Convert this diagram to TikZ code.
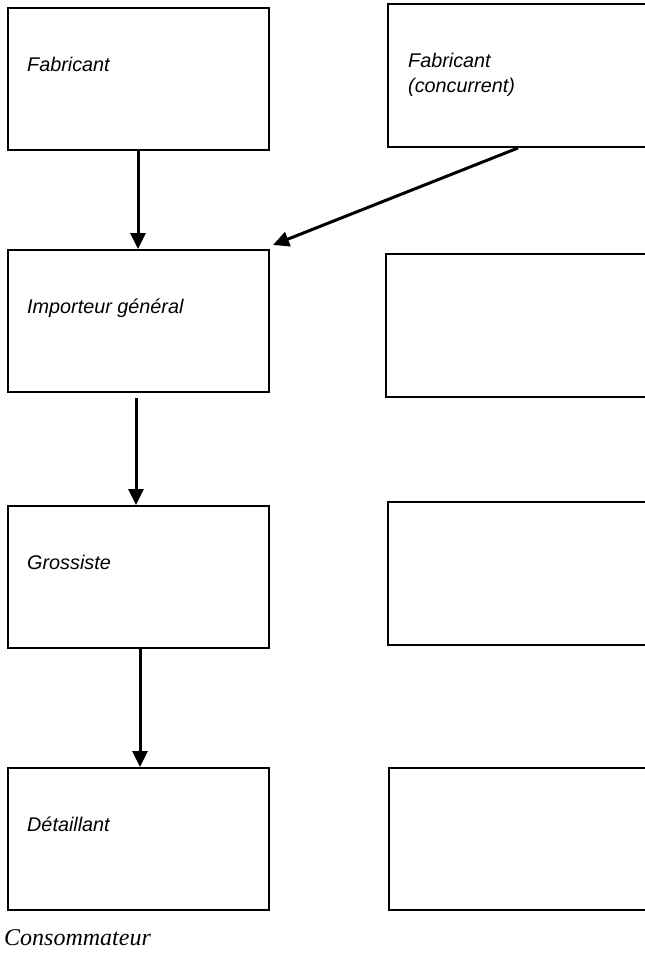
\documentclass[tikz,border=0pt]{standalone}
\usepackage{fontspec}
\setmainfont{Liberation Serif}
\setsansfont{Liberation Sans}
\usetikzlibrary{arrows.meta}

\begin{document}
\begin{tikzpicture}[x=1pt,y=-1pt]
    \useasboundingbox (0,0) rectangle (645,956);
    \clip (0,0) rectangle (645,956);

    \begin{scope} [every node/.style={rectangle,draw,line width=2pt,
            minimum width=261pt,minimum height=142pt,anchor=north west,inner sep=0pt}]
        \node (fab) at (7,7) {};
        \node (imp) at (7,249) {};
        \node (gro) at (7,505) {};
        \node (det) at (7,767) {};
        \node[minimum width=260pt,minimum height=143pt] (conc) at (387,3) {};
        \node[minimum width=260pt,minimum height=143pt] (imp2) at (385,253) {};
        \node[minimum width=260pt,minimum height=143pt] (gro2) at (387,501) {};
        \node[minimum width=260pt,minimum height=142pt] (det2) at (388,767) {};
    \end{scope}

    \begin{scope} [every node/.style={font=\sffamily\itshape\fontsize{19.8}{25}\selectfont,
            anchor=base west,inner sep=0pt}]
        \node (fabtxt) at ([shift={(20,64)}]fab.north west) {Fabricant};
        \node[align=left] (conctxt) at ([shift={(21,89)}]conc.north west) {Fabricant\\(concurrent)};
        \node (imptxt) at ([shift={(20,64)}]imp.north west) {Importeur général};
        \node (grotxt) at ([shift={(20,64)}]gro.north west) {Grossiste};
        \node (dettxt) at ([shift={(20,64)}]det.north west) {Détaillant};
    \end{scope}

    \node[font=\rmfamily\itshape\fontsize{24}{28}\selectfont,anchor=base west,inner sep=0pt]
        (cons) at (4,945) {Consommateur};

    \begin{scope}[>={Triangle[length=16pt,width=15pt]},
            every edge/.style={draw,line width=3pt}]
        \path [->] ([xshift=-0.5pt]fab.south) edge ([xshift=-0.5pt]imp.north);
        \path [->] (conc.south) edge ([shift={(3,-4)}]imp.north east);
        \path [->] ([xshift=-2.5pt]imp.south) edge[shorten <=5pt] ([xshift=-2.5pt]gro.north);
        \path [->] ([xshift=1.5pt]gro.south) edge ([xshift=1.5pt]det.north);
    \end{scope}
\end{tikzpicture}
\end{document}
